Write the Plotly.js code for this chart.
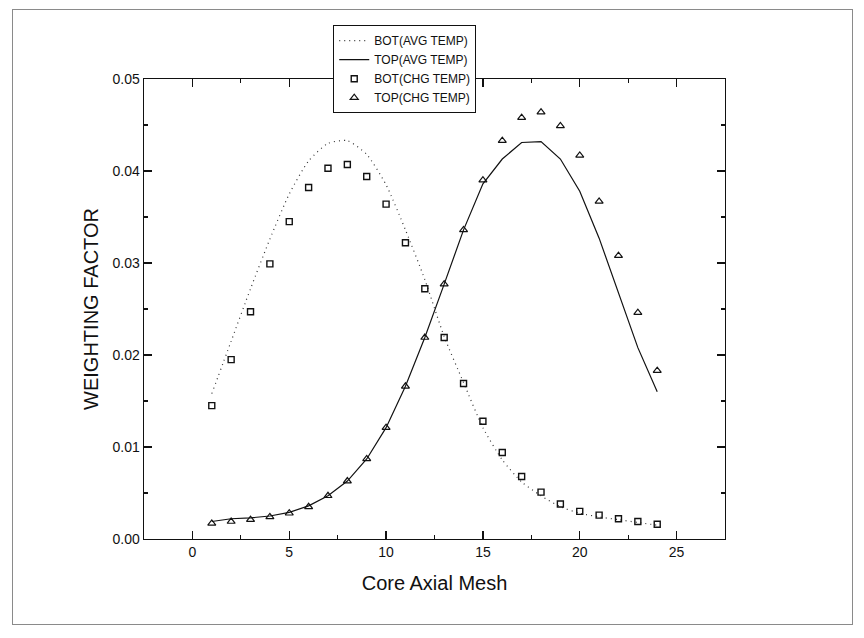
<!DOCTYPE html>
<html>
<head>
<meta charset="utf-8">
<script src="https://cdn.plot.ly/plotly-3.0.1.min.js"></script>
<style>
  html, body { margin: 0; padding: 0; background: #ffffff; }
  #frame { position: absolute; left: 12px; top: 9px; width: 839px; height: 614px; border: 1px solid #8a8a8a; }
  #chart { position: absolute; left: 0; top: 0; width: 864px; height: 638px; }
</style>
</head>
<body>
<div id="frame"></div>
<div id="chart"></div>
<script>
// Axial mesh index
const mesh = [1,2,3,4,5,6,7,8,9,10,11,12,13,14,15,16,17,18,19,20,21,22,23,24];

// BOT(AVG TEMP) - dotted line
const botAvg = [0.0158,0.0215,0.0272,0.0326,0.0375,0.0411,0.0430,0.0433,0.0418,0.0385,0.0336,0.0282,
                0.0220,0.0170,0.0121,0.0086,0.0062,0.0047,0.0035,0.0028,0.0024,0.0021,0.0018,0.0015];

// TOP(AVG TEMP) - solid line
const topAvg = [0.0019,0.0022,0.0023,0.0025,0.0029,0.0036,0.0047,0.0063,0.0087,0.0121,0.0166,0.0219,
                0.0277,0.0336,0.0386,0.0413,0.0431,0.0432,0.0413,0.0378,0.0327,0.0268,0.0208,0.0160];

// BOT(CHG TEMP) - open squares
const botChg = [0.0145,0.0195,0.0247,0.0299,0.0345,0.0382,0.0403,0.0407,0.0394,0.0364,0.0322,0.0272,
                0.0219,0.0169,0.0128,0.0094,0.0068,0.0051,0.0038,0.0030,0.0026,0.0022,0.0019,0.0016];

// TOP(CHG TEMP) - open triangles
const topChg = [0.0017,0.0019,0.0021,0.0024,0.0028,0.0035,0.0047,0.0063,0.0087,0.0121,0.0166,0.0219,
                0.0277,0.0336,0.0390,0.0433,0.0458,0.0464,0.0449,0.0417,0.0367,0.0308,0.0246,0.0183];

const seriesNames = ['BOT(AVG TEMP)', 'TOP(AVG TEMP)', 'BOT(CHG TEMP)', 'TOP(CHG TEMP)'];

const FONT = 'Arial, "Liberation Sans", sans-serif';

const traces = [
  { x: mesh, y: botAvg, name: seriesNames[0], type: 'scatter', mode: 'lines',
    line: { color: '#333333', width: 1.2, dash: '1px,4px', shape: 'spline', smoothing: 0.6 } },
  { x: mesh, y: topAvg, name: seriesNames[1], type: 'scatter', mode: 'lines',
    line: { color: '#111111', width: 1.2 } },
  { x: mesh, y: botChg, name: seriesNames[2], type: 'scatter', mode: 'markers',
    marker: { symbol: 'square-open', size: 6, color: '#111111', line: { width: 1.4, color: '#111111' } } },
  { x: mesh, y: topChg, name: seriesNames[3], type: 'scatter', mode: 'markers',
    marker: { symbol: 'triangle-up-open', size: 7, color: '#111111', line: { width: 1.2, color: '#111111' } } }
];

const layout = {
  width: 864, height: 638,
  paper_bgcolor: 'rgba(0,0,0,0)', plot_bgcolor: '#ffffff',
  margin: { l: 144, r: 139, t: 79, b: 99, pad: 0 },
  font: { family: FONT, color: '#111111', size: 14 },
  showlegend: true,
  legend: {
    x: 0.3257, y: 1.117, xanchor: 'left', yanchor: 'top',
    bgcolor: '#ffffff', bordercolor: '#111111', borderwidth: 1,
    font: { family: FONT, size: 12, color: '#111111' },
    tracegroupgap: 0, itemwidth: 30
  },
  xaxis: {
    range: [-2.5, 27.5], tick0: 0, dtick: 5,
    ticks: 'inside', ticklen: 8, tickwidth: 1.2, tickcolor: '#111111',
    minor: { dtick: 2.5, ticks: 'inside', ticklen: 4, tickwidth: 1.2, tickcolor: '#111111' },
    showline: true, linecolor: '#111111', linewidth: 1.4, mirror: 'ticks',
    showgrid: false, zeroline: false,
    tickfont: { family: FONT, size: 14, color: '#111111' },
    title: { text: 'Core Axial Mesh', font: { family: FONT, size: 20, color: '#111111' }, standoff: 16 }
  },
  yaxis: {
    range: [0, 0.05], tick0: 0, dtick: 0.01, tickformat: '.2f',
    ticks: 'inside', ticklen: 8, tickwidth: 1.2, tickcolor: '#111111',
    minor: { dtick: 0.005, ticks: 'inside', ticklen: 4, tickwidth: 1.2, tickcolor: '#111111' },
    showline: true, linecolor: '#111111', linewidth: 1.4, mirror: 'ticks',
    showgrid: false, zeroline: false,
    tickfont: { family: FONT, size: 14, color: '#111111' },
    title: { text: 'WEIGHTING FACTOR', font: { family: FONT, size: 20, color: '#111111' }, standoff: 8 }
  }
};

Plotly.newPlot('chart', traces, layout, { displayModeBar: false, staticPlot: true });
</script>
</body>
</html>
